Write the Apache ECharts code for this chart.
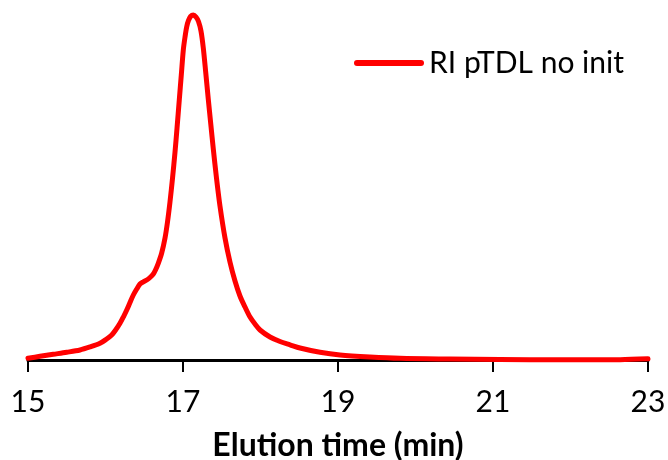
<!DOCTYPE html>
<html>
<head>
<meta charset="utf-8">
<script src="https://cdn.jsdelivr.net/npm/echarts@6/dist/echarts.min.js"></script>
<style>
html,body{margin:0;padding:0;background:#fff;}
#chart{width:668px;height:460px;}
</style>
</head>
<body>
<div id="chart"></div>
<script>
// Elution time (min)
var times = [15.00, 15.155, 15.326, 15.499, 15.671, 15.800, 15.929, 16.006, 16.080, 16.135, 16.187, 16.230, 16.274, 16.316, 16.359,
             16.403, 16.445, 16.488, 16.532, 16.574, 16.617, 16.645, 16.681, 16.725, 16.768, 16.800, 16.832, 16.865, 16.897, 16.923,
             16.952, 16.978, 17.004, 17.026, 17.048, 17.071, 17.097, 17.133, 17.168, 17.200, 17.232, 17.262, 17.294, 17.326, 17.359,
             17.391, 17.432, 17.477, 17.542, 17.606, 17.671, 17.735, 17.800, 17.865, 17.929, 17.994, 18.123, 18.252, 18.381, 18.510,
             18.768, 19.026, 19.413, 19.800, 20.445, 21.09, 21.86, 22.64, 23.00];
// RI signal (arbitrary units)
var riValues = [0.49, 1.07, 1.65, 2.23, 2.90, 3.77, 4.84, 5.94, 7.25, 8.84, 10.64, 12.46, 14.49, 16.67, 18.84,
                20.58, 22.03, 22.67, 23.19, 23.91, 24.93, 26.09, 28.03, 31.01, 35.36, 40.0, 45.80, 52.75, 60.29, 67.25,
                75.36, 82.6, 89.86, 93.62, 96.61, 98.41, 99.57, 100, 99.42, 98.12, 95.36, 90.43, 83.19, 75.65, 68.26,
                61.16, 52.75, 44.64, 35.36, 28.41, 22.90, 18.55, 15.36, 12.46, 10.43, 8.70, 6.67, 5.36, 4.41, 3.48,
                2.23, 1.45, 0.87, 0.49, 0.29, 0.15, 0.05, 0.10, 0.35];
var seriesName = 'RI pTDL no init';
var xTicks = [15, 17, 19, 21, 23];

var data = times.map(function (t, i) { return [t, riValues[i]]; });
var FONT = 'Lato, "Open Sans", sans-serif';

var chart = echarts.init(document.getElementById('chart'), null, {renderer: 'canvas'});
chart.setOption({
  animation: false,
  backgroundColor: '#fff',
  grid: {left: 28, right: 20, top: 15, bottom: 100, outerBoundsMode: 'none'},
  legend: {
    show: true,
    left: 349,
    top: 43,
    itemWidth: 70,
    itemHeight: 6,
    data: [{name: seriesName, icon: 'path://M3,0 L67,0 A3,3 0 0 1 67,6 L3,6 A3,3 0 0 1 3,0 Z'}],
    textStyle: {fontFamily: FONT, fontSize: 30, color: '#000'},
    itemStyle: {color: '#ff0000'}
  },
  xAxis: {
    type: 'value',
    min: xTicks[0],
    max: xTicks[xTicks.length - 1],
    interval: 2,
    name: 'Elution time (min)',
    nameLocation: 'middle',
    nameGap: 70,
    nameTextStyle: {fontFamily: FONT, fontSize: 32, fontWeight: 'bold', color: '#000'},
    axisLine: {show: true, onZero: false, lineStyle: {color: '#000', width: 3}},
    axisTick: {show: true, length: 12, lineStyle: {color: '#000', width: 2}},
    axisLabel: {fontFamily: FONT, fontSize: 30, color: '#000', margin: 27},
    splitLine: {show: false}
  },
  yAxis: {
    type: 'value',
    min: 0,
    max: 100,
    show: false
  },
  series: [{
    name: seriesName,
    type: 'line',
    data: data,
    smooth: 0.3,
    showSymbol: false,
    symbol: 'none',
    clip: false,
    lineStyle: {color: '#ff0000', width: 5, cap: 'round', join: 'round'},
    itemStyle: {color: '#ff0000'},
    z: 3
  }]
});
</script>
</body>
</html>
